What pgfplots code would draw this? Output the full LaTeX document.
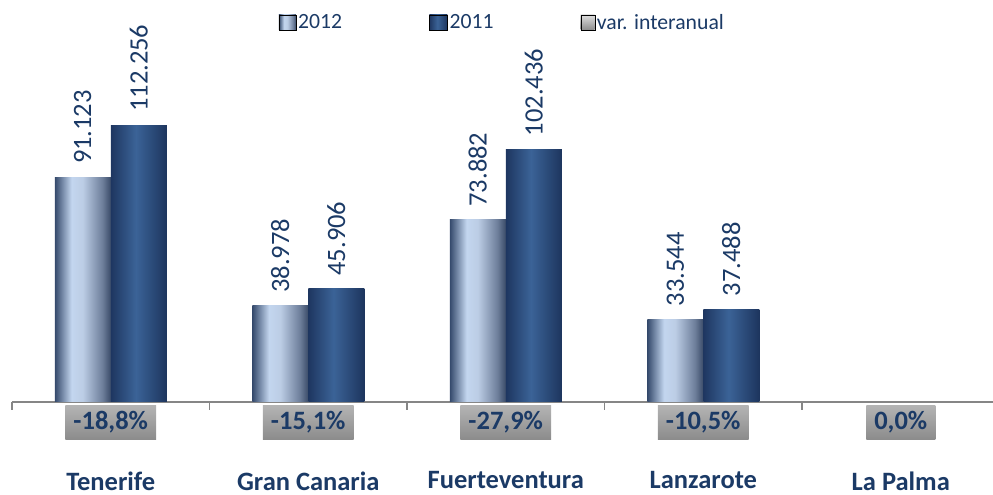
\documentclass[border=0pt]{standalone}
\usepackage{pgfplots}
\pgfplotsset{compat=1.18}
\usepackage{fontspec}
\setmainfont{Carlito}
\definecolor{navy}{HTML}{1B3A66}
\definecolor{axgray}{HTML}{868686}
\definecolor{caa}{HTML}{34496B}
\definecolor{cab}{HTML}{C3D6EF}
\definecolor{cac}{HTML}{BCCDE5}
\definecolor{cad}{HTML}{6E7F9B}
\definecolor{cae}{HTML}{3A4B68}
\definecolor{cba}{HTML}{1E3660}
\definecolor{cbb}{HTML}{3B6397}
\definecolor{cbc}{HTML}{1D355E}
\definecolor{gtop}{HTML}{B4B4B4}
\definecolor{gmid}{HTML}{DEDEDE}
\definecolor{gbot}{HTML}{8C8C8C}
\pgfdeclarehorizontalshading{shA}{100bp}{color(0bp)=(caa); color(25bp)=(caa); color(40bp)=(cab); color(50bp)=(cac); color(67.5bp)=(cad); color(75bp)=(cae); color(100bp)=(cae)}
\pgfdeclarehorizontalshading{shB}{100bp}{color(0bp)=(cba); color(25bp)=(cba); color(47.5bp)=(cbb); color(75bp)=(cbc); color(100bp)=(cbc)}
\newcommand{\bigf}{\fontsize{26.5}{30}\selectfont}
\newcommand{\legf}{\fontsize{21.7}{25}\selectfont}
\pgfplotsset{
  valnode/.style={nodes near coords={\pgfmathprintnumber[fixed,fixed zerofill,precision=3]{\pgfplotspointmeta}},
    every node near coord/.append style={rotate=90, anchor=west, font=\bigf, text=navy, inner xsep=13pt}},
  barA/.style={forget plot, draw=none, shading=shA, bar shift=-28pt, valnode},
  barB/.style={forget plot, draw=none, shading=shB, bar shift=28pt, valnode},
}
\begin{document}
\begin{tikzpicture}
\useasboundingbox (0,0) rectangle (993pt,495pt);
\begin{axis}[
  at={(12pt,93pt)}, anchor=south west,
  x=197.5pt, y=2.467pt,
  xmin=-0.5, xmax=4.465, ymin=0, ymax=163,
  enlargelimits=false, clip=false,
  ybar=0pt, bar width=56pt,
  axis y line=none, axis x line=bottom,
  axis line style={-, draw=axgray, line width=2pt},
  xtick={0,1,2,3,4},
  xticklabels={Tenerife, Gran Canaria, Fuerteventura, Lanzarote, La Palma},
  major tick length=0pt,
  xticklabel style={font=\bigf\bfseries, text=navy, inner sep=0.5pt, yshift=-69pt},
  extra x ticks={-0.5,0.5,1.5,2.5,3.5},
  extra x tick labels={},
  extra x tick style={major tick length=8pt, tick align=outside, tick style={draw=axgray, line width=1.5pt}},
  /pgf/number format/assume math mode=true,
  legend columns=-1,
  legend style={at={(axis description cs:0.5,0.97)}, anchor=north, draw=none, fill=none,
    font=\legf, text=navy, inner sep=0pt,
    /tikz/every even column/.append style={column sep=85pt}},
]
% 2012
\addplot[barA] coordinates {(0,91.123)};
\addplot[barA] coordinates {(1,38.978)};
\addplot[barA] coordinates {(2,73.882)};
\addplot[barA] coordinates {(3,33.544)};
% 2011
\addplot[barB] coordinates {(0,112.256)};
\addplot[barB] coordinates {(1,45.906)};
\addplot[barB] coordinates {(2,102.436)};
\addplot[barB] coordinates {(3,37.488)};
% variacion interanual
\addplot[forget plot, draw=none, fill=none, bar shift=0pt, point meta=explicit,
  nodes near coords={\pgfmathprintnumber[fixed,fixed zerofill,precision=1,use comma]{\pgfplotspointmeta}\%},
  every node near coord/.append style={anchor=north, yshift=-3pt, shade, top color=gtop, middle color=gmid, bottom color=gbot,
     font=\bigf\bfseries, text=navy, inner xsep=8pt, inner ysep=6pt}]
  coordinates {(0,0) [-18.8] (1,0) [-15.1] (2,0) [-27.9] (3,0) [-10.5] (4,0) [0]};
\addlegendimage{legend image code/.code={\shade[shading=shA] (0pt,-7.5pt) rectangle (17pt,7.5pt);}}
\addlegendentry{2012}
\addlegendimage{legend image code/.code={\shade[shading=shB] (0pt,-7.5pt) rectangle (18pt,7.5pt);}}
\addlegendentry{2011}
\addlegendimage{legend image code/.code={\shade[top color=gmid, bottom color=gbot] (0pt,-7.5pt) rectangle (14pt,7.5pt);}}
\addlegendentry{var. interanual}
\end{axis}
\end{tikzpicture}
\end{document}
